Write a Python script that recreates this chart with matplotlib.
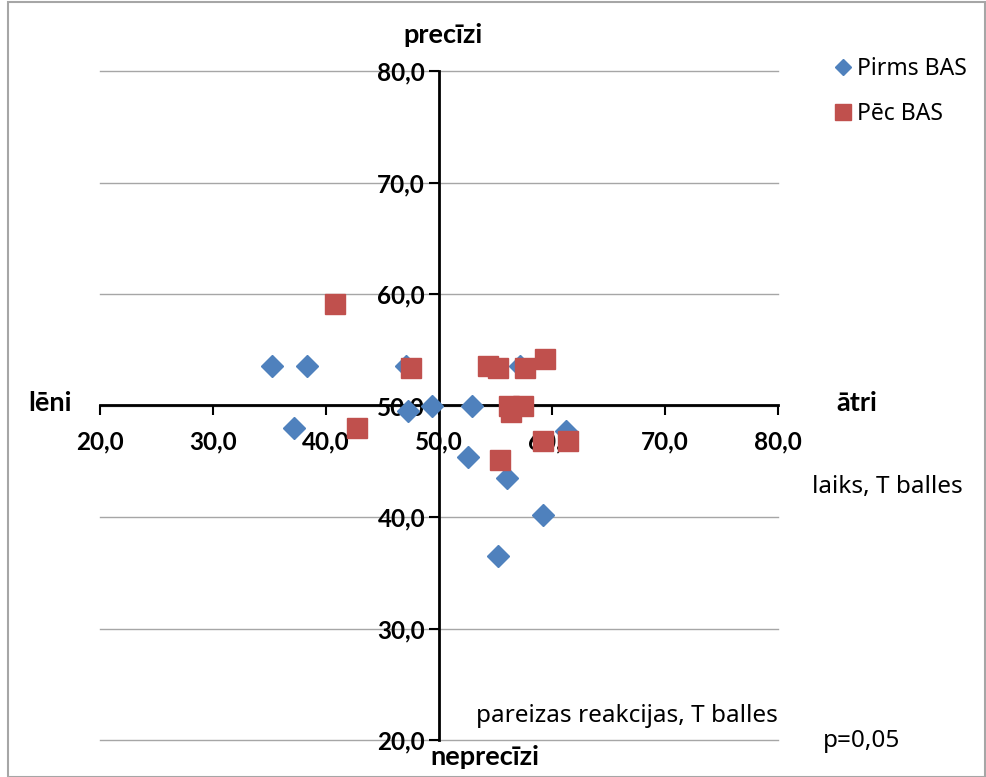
import matplotlib
matplotlib.use("Agg")
import matplotlib.pyplot as plt
from matplotlib.patches import Rectangle

plt.rcParams['font.family'] = ['Noto Sans', 'DejaVu Sans']
BOLD = ['Lato', 'DejaVu Sans']

# Pirms BAS (laiks, pareizas reakcijas)
pirms_x = [35.2, 38.3, 37.2, 47.1, 47.3, 49.4, 52.9, 52.6, 56.0, 59.2, 55.2, 57.2, 61.2]
pirms_y = [53.5, 53.5, 48.0, 53.5, 49.5, 50.0, 50.0, 45.4, 43.5, 40.2, 36.5, 53.5, 47.7]

# Pēc BAS
pec_x = [40.8, 42.7, 47.5, 54.3, 55.2, 57.6, 59.4, 56.2, 57.4, 56.4, 55.4, 59.2, 61.4]
pec_y = [59.1, 48.0, 53.4, 53.5, 53.4, 53.4, 54.2, 50.0, 50.0, 49.4, 45.1, 46.8, 46.8]

ticks = [20, 30, 40, 50, 60, 70, 80]
tick_labels = ["20,0", "30,0", "40,0", "50,0", "60,0", "70,0", "80,0"]

W, H = 986, 777
fig = plt.figure(figsize=(W / 100, H / 100), dpi=100)
ax = fig.add_axes([100 / W, 1 - 740 / H, 678 / W, 669 / H])

ax.set_xlim(20, 80)
ax.set_ylim(20, 80)

# horizontal gridlines
for t in ticks:
    ax.axhline(t, color="#a6a6a6", lw=1, zorder=0, clip_on=False)

ax.spines['left'].set_position(('data', 50))
ax.spines['bottom'].set_position(('data', 50))
ax.spines['right'].set_visible(False)
ax.spines['top'].set_visible(False)
for s in ('left', 'bottom'):
    ax.spines[s].set_linewidth(2)
    ax.spines[s].set_zorder(1)

ax.set_xticks(ticks)
ax.set_xticklabels(tick_labels)
ax.set_yticks(ticks)
ax.set_yticklabels(tick_labels)
ax.tick_params(axis='x', direction='out', length=7, width=1.5, pad=11)
ax.tick_params(axis='y', direction='out', length=7, width=1.5, pad=3)
for lbl in ax.get_xticklabels() + ax.get_yticklabels():
    lbl.set_fontweight('bold')
    lbl.set_family(BOLD)
    lbl.set_fontsize(17.5)

ax.plot(pirms_x, pirms_y, 'D', color="#4f81bd", ms=11, mec="#4f81bd",
        label="Pirms BAS", zorder=3, clip_on=False)
ax.plot(pec_x, pec_y, 's', color="#c0504d", ms=15, mec="#c0504d",
        label="Pēc BAS", zorder=4, clip_on=False)

fig.legend(loc='upper left', bbox_to_anchor=(811 / W, 1 - 36 / H), frameon=False,
           fontsize=16.5, handletextpad=0.1, labelspacing=0.95, markerscale=0.75,
           handlelength=1.0)

fig.text(443 / W, 1 - 35 / H, "precīzi", ha='center', va='center',
         fontsize=19.5, fontweight='bold', family=BOLD)
fig.text(485 / W, 1 - 757 / H, "neprecīzi", ha='center', va='center',
         fontsize=19.5, fontweight='bold', family=BOLD)
fig.text(50 / W, 1 - 403 / H, "lēni", ha='center', va='center',
         fontsize=19.5, fontweight='bold', family=BOLD)
fig.text(857 / W, 1 - 403 / H, "ātri", ha='center', va='center',
         fontsize=19.5, fontweight='bold', family=BOLD)
fig.text(887 / W, 1 - 487 / H, "laiks, T balles", ha='center', va='center', fontsize=17.5)
fig.text(627 / W, 1 - 716 / H, "pareizas reakcijas, T balles", ha='center',
         va='center', fontsize=17.5)
fig.text(862 / W, 1 - 741 / H, "p=0,05", ha='center', va='center', fontsize=17.5)

fig.patches.append(Rectangle((8 / W, 0), 1 - 9 / W, 1 - 2 / H, transform=fig.transFigure,
                             fill=False, edgecolor="#a6a6a6", lw=1.5))

fig.savefig("out.png", dpi=100)
